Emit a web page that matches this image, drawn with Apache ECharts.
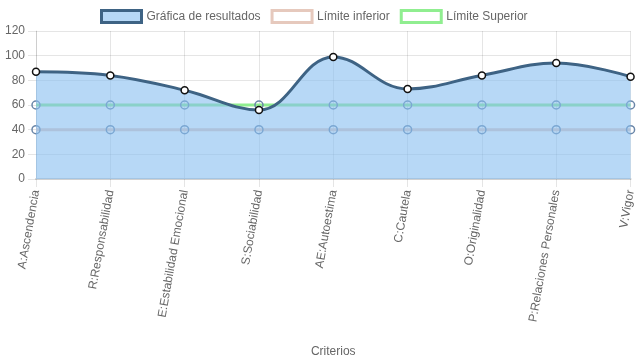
<!DOCTYPE html>
<html><head><meta charset="utf-8">
<script src="https://cdn.jsdelivr.net/npm/echarts@6/dist/echarts.min.js"></script>
<style>html,body{margin:0;padding:0;background:#fff}#c{width:637px;height:359px}</style>
</head><body><div id="c"></div>
<script>
var categories = ['A:Ascendencia','R:Responsabilidad','E:Estabilidad Emocional','S:Sociabilidad','AE:Autoestima','C:Cautela','O:Originalidad','P:Relaciones Personales','V:Vigor'];
var resultados = [87, 84, 72, 56, 99, 73, 84, 94, 83];
var limiteInferior = [40, 40, 40, 40, 40, 40, 40, 40, 40];
var limiteSuperior = [60, 60, 60, 60, 60, 60, 60, 60, 60];
var yTicks = {min: 0, max: 120, interval: 20};

var font = 'Liberation Sans, Arial, Helvetica, sans-serif';
var chart = echarts.init(document.getElementById('c'));
chart.setOption({
  animation: false,
  textStyle: {fontFamily: font},
  legend: {
    top: 4, left: 95, itemWidth: 40, itemHeight: 12, itemGap: 10,
    textStyle: {color: '#666', fontSize: 12, fontFamily: font},
    data: [
      {name: 'Gráfica de resultados', icon: 'rect', itemStyle: {color: '#b7d8f6', borderColor: '#3e6384', borderWidth: 3}},
      {name: 'Límite inferior', icon: 'rect', itemStyle: {color: '#ffffff', borderColor: '#e6c9bd', borderWidth: 3}},
      {name: 'Límite Superior', icon: 'rect', itemStyle: {color: '#ffffff', borderColor: '#90ee90', borderWidth: 3}}
    ]
  },
  grid: {left: 36, right: 4, top: 31, bottom: 179, containLabel: false},
  xAxis: {
    type: 'category', data: categories, boundaryGap: false,
    name: 'Criterios', nameLocation: 'middle', nameGap: 167,
    nameTextStyle: {color: '#666', fontSize: 12, fontFamily: font},
    axisLine: {show: true, lineStyle: {color: '#d0d0d0', width: 2}},
    axisTick: {show: true, length: 8, lineStyle: {color: 'rgba(0,0,0,0.1)'}},
    axisLabel: {rotate: 80, color: '#666', fontSize: 12, margin: 11, fontFamily: font},
    splitLine: {show: true, lineStyle: {color: 'rgba(0,0,0,0.1)'}}
  },
  yAxis: {
    type: 'value', min: yTicks.min, max: yTicks.max, interval: yTicks.interval,
    axisLine: {show: true, lineStyle: {color: 'rgba(0,0,0,0.1)'}},
    axisTick: {show: true, length: 8, lineStyle: {color: 'rgba(0,0,0,0.1)'}},
    axisLabel: {color: '#666', fontSize: 12, margin: 11, fontFamily: font},
    splitLine: {show: true, lineStyle: {color: 'rgba(0,0,0,0.1)'}}
  },
  series: [
    {
      name: 'Límite inferior', type: 'line', data: limiteInferior, z: 1,
      symbol: 'circle', symbolSize: 8, showAllSymbol: true,
      lineStyle: {color: '#e6c9bd', width: 3},
      itemStyle: {color: 'rgba(255,255,255,0)', borderColor: '#6a86a8', borderWidth: 1.5}
    },
    {
      name: 'Límite Superior', type: 'line', data: limiteSuperior, z: 2,
      symbol: 'circle', symbolSize: 8, showAllSymbol: true,
      lineStyle: {color: '#90ee90', width: 3},
      itemStyle: {color: 'rgba(255,255,255,0)', borderColor: '#6a86a8', borderWidth: 1.5}
    },
    {
      name: 'Gráfica de resultados', type: 'line', data: resultados, z: 3,
      smooth: 0.4, symbol: 'circle', symbolSize: 7, showAllSymbol: true,
      lineStyle: {color: '#3e6384', width: 3},
      areaStyle: {color: 'rgba(135,190,240,0.6)', opacity: 1, origin: 'start'},
      itemStyle: {color: '#ffffff', borderColor: '#111', borderWidth: 1.5}
    }
  ]
});
</script></body></html>
